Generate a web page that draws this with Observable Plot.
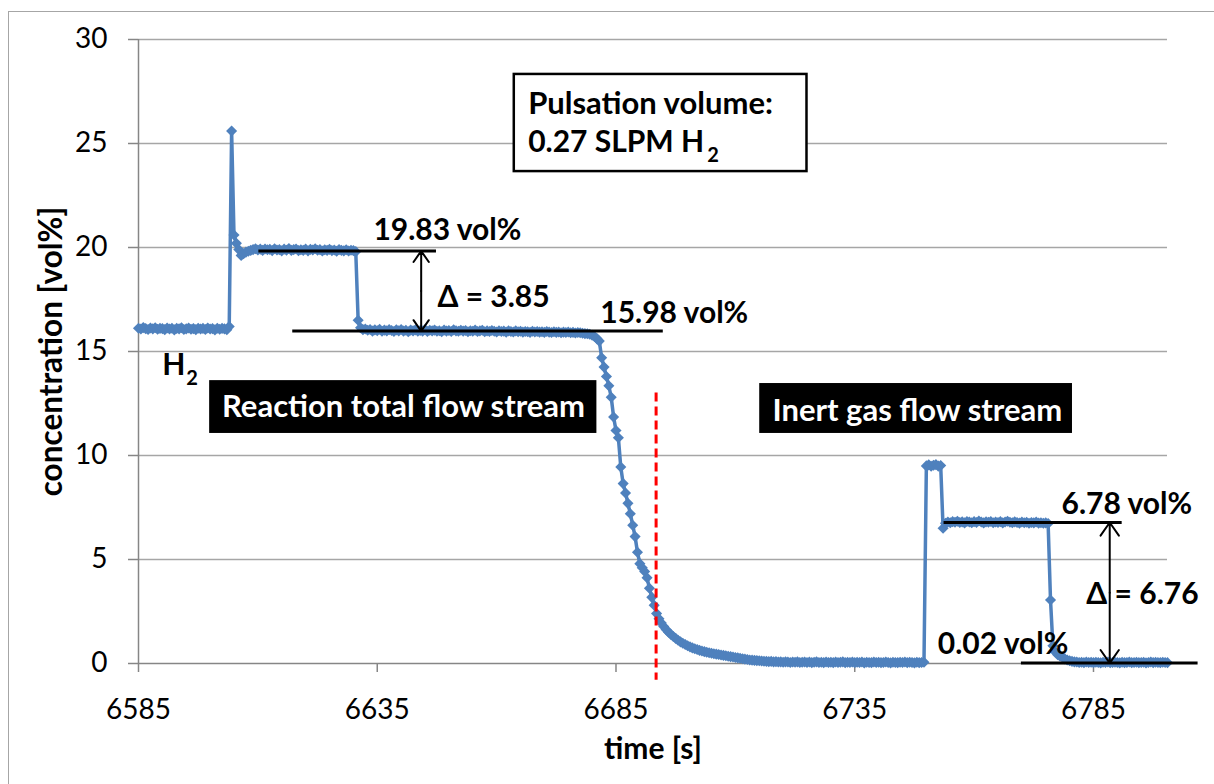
<!DOCTYPE html>
<html>
<head>
<meta charset="utf-8">
<script src="https://cdn.jsdelivr.net/npm/d3@7"></script>
<script src="https://cdn.jsdelivr.net/npm/@observablehq/plot@0.6"></script>
<style>
  html, body { margin: 0; padding: 0; background: #fff; overflow: hidden; }
  #wrap { position: relative; width: 1214px; height: 784px; }
  #frame { position: absolute; left: 8px; top: 11px; width: 1240px; height: 800px;
           border: 1.5px solid #a6a6a6; box-sizing: border-box; }
  #chart { position: absolute; left: 0; top: 0; }
</style>
</head>
<body>
<div id="wrap"><div id="frame"></div><div id="chart"></div></div>
<script>
// H2 concentration logged every 0.5 s, starting at t = 6585 s
const startTime = 6585;
const step = 0.5;
const concentration = [
  16.12,16.08,16.15,16.10,16.06,16.13,16.09,16.14,16.07,16.11, // 6585
  16.10,16.05,16.13,16.08,16.12,16.04,16.11,16.09,16.14,16.06, // 6590
  16.09,16.13,16.07,16.10,16.05,16.12,16.08,16.11,16.06,16.13, // 6595
  16.08,16.10,16.04,16.12,16.07,16.11,16.09,16.05,16.20,25.60, // 6600
  20.60,20.20,19.90,19.62,19.70,19.78,19.82,19.86,19.90,19.94, // 6605
  19.88,19.92,19.86,19.93,19.89,19.91,19.85,19.94,19.88,19.90, // 6610
  19.84,19.92,19.87,19.95,19.86,19.90,19.93,19.85,19.89,19.86, // 6615
  19.92,19.84,19.91,19.88,19.94,19.87,19.90,19.83,19.89,19.86, // 6620
  19.91,19.85,19.88,19.82,19.90,19.86,19.84,19.89,19.83,19.87, // 6625
  19.85,19.80,16.50,16.14,16.05,16.08,16.02,16.06,15.98,16.04, // 6630
  16.00,16.07,15.97,16.03,15.99,16.05,16.01,15.96,16.04,15.99, // 6635
  16.06,15.98,16.02,15.95,16.03,15.99,16.04,15.97,16.01,15.98, // 6640
  16.05,15.96,16.02,15.99,16.03,15.97,16.00,15.95,16.03,15.98, // 6645
  16.01,15.96,16.04,15.99,15.97,16.02,15.98,16.01,15.95,16.00, // 6650
  15.97,16.03,15.96,15.99,16.02,15.95,15.99,15.96,16.01,15.97, // 6655
  15.94,16.00,15.96,15.98,15.93,15.99,15.96,15.94,15.99,15.95, // 6660
  15.97,15.93,15.96,15.95,15.92,15.97,15.94,15.96,15.93,15.95, // 6665
  15.92,15.96,15.93,15.91,15.95,15.92,15.94,15.90,15.93,15.91, // 6670
  15.94,15.90,15.92,15.89,15.91,15.90,15.88,15.86,15.85,15.83, // 6675
  15.78,15.72,15.62,15.50,14.70,14.25,13.80,13.35,12.80,11.85, // 6680
  11.20,10.85, 9.45, 8.65, 8.20, 7.70, 7.20, 6.65, 6.10, 5.35, // 6685
   4.80, 4.60, 4.42, 4.12, 3.62, 3.18, 2.80, 2.40, 2.15, 1.95, // 6690
   1.78, 1.63, 1.50, 1.40, 1.30, 1.21, 1.12, 1.04, 0.97, 0.91, // 6695
   0.85, 0.80, 0.75, 0.71, 0.67, 0.63, 0.60, 0.57, 0.54, 0.52, // 6700
   0.49, 0.47, 0.45, 0.43, 0.41, 0.39, 0.37, 0.35, 0.33, 0.31, // 6705
   0.29, 0.27, 0.25, 0.23, 0.21, 0.19, 0.17, 0.16, 0.15, 0.14, // 6710
   0.13, 0.12, 0.11, 0.10, 0.09, 0.10, 0.08, 0.09, 0.07, 0.08, // 6715
   0.06, 0.08, 0.07, 0.05, 0.07, 0.06, 0.08, 0.05, 0.06, 0.07, // 6720
   0.05, 0.07, 0.04, 0.06, 0.08, 0.05, 0.06, 0.04, 0.07, 0.05, // 6725
   0.06, 0.04, 0.07, 0.05, 0.06, 0.08, 0.04, 0.06, 0.05, 0.07, // 6730
   0.04, 0.06, 0.05, 0.07, 0.03, 0.06, 0.05, 0.04, 0.07, 0.05, // 6735
   0.06, 0.04, 0.05, 0.07, 0.05, 0.03, 0.06, 0.05, 0.04, 0.06, // 6740
   0.05, 0.07, 0.04, 0.06, 0.05, 0.03, 0.06, 0.04, 0.05, 0.06, // 6745
   9.50, 9.55, 9.48, 9.53, 9.56, 9.49, 9.52, 6.50, 6.74, 6.80, // 6750
   6.77, 6.82, 6.79, 6.84, 6.78, 6.81, 6.76, 6.83, 6.80, 6.77, // 6755
   6.82, 6.78, 6.85, 6.80, 6.76, 6.81, 6.79, 6.83, 6.77, 6.80, // 6760
   6.78, 6.82, 6.76, 6.80, 6.84, 6.79, 6.77, 6.81, 6.78, 6.75, // 6765
   6.80, 6.77, 6.79, 6.74, 6.78, 6.76, 6.80, 6.75, 6.77, 6.74, // 6770
   6.76, 6.73, 3.05, 0.85, 0.55, 0.42, 0.35, 0.30, 0.22, 0.17, // 6775
   0.13, 0.10, 0.08, 0.07, 0.05, 0.06, 0.04, 0.07, 0.05, 0.06, // 6780
   0.04, 0.06, 0.05, 0.03, 0.06, 0.05, 0.07, 0.04, 0.05, 0.06, // 6785
   0.05, 0.03, 0.06, 0.04, 0.05, 0.07, 0.04, 0.05, 0.06, 0.04, // 6790
   0.05, 0.06, 0.03, 0.05, 0.07, 0.04, 0.06, 0.05, 0.04, 0.06, // 6795
   0.05, 0.04                                                   // 6800
];

const xTicks = [6585, 6635, 6685, 6735, 6785];
const yTicks = [0, 5, 10, 15, 20, 25, 30];

// horizontal reference levels (vol%) and their extent in time
const levelLines = [
  {x1: 6610.1, x2: 6647.3, level: 19.83},
  {x1: 6617.2, x2: 6694.8, level: 15.98},
  {x1: 6753.6, x2: 6790.9, level: 6.78},
  {x1: 6769.8, x2: 6806.8, level: 0.02}
];
// double arrows spanning each concentration step
const steps = [
  {time: 6644.2, high: 19.83, low: 15.98},
  {time: 6788.4, high: 6.78, low: 0.02}
];
const switchTime = 6693.4;

const streamBoxes = [
  {label: "Reaction total flow stream", x1: 6599.9, x2: 6681.0, y1: 11.06, y2: 13.60, tx: 6640.5, ty: 11.83},
  {label: "Inert gas flow stream", x1: 6715.1, x2: 6780.6, y1: 11.06, y2: 13.46, tx: 6748.1, ty: 11.68}
];
const infoBox = [{x1: 6663.7, x2: 6725.0, y1: 23.65, y2: 28.32}];

const notes = [
  {text: "19.83 vol%", time: 6634.2, c: 20.34, size: 30},
  {text: "\u0394 = 3.85", time: 6647.6, c: 17.12, size: 30},
  {text: "15.98 vol%", time: 6681.7, c: 16.39, size: 30},
  {text: "6.78 vol%", time: 6778.3, c: 7.21, size: 30},
  {text: "\u0394 = 6.76", time: 6783.5, c: 2.88, size: 30},
  {text: "0.02 vol%", time: 6752.4, c: 0.48, size: 30},
  {text: "Pulsation volume:", time: 6666.6, c: 26.44, size: 31},
  {text: "0.27 SLPM H", time: 6666.6, c: 24.57, size: 30},
  {text: "H", time: 6590.0, c: 13.85, size: 30}
];
const subscripts = [
  {text: "2", time: 6704.1, c: 24.10},
  {text: "2", time: 6595.0, c: 13.38}
];

const series = concentration.map((c, i) => ({time: startTime + i * step, c}));
const blue = "#4F81BD";
const axisGray = "#868686";

const arrowHalves = steps.flatMap(d => {
  const mid = (d.high + d.low) / 2;
  return [{time: d.time, from: mid, to: d.high}, {time: d.time, from: mid, to: d.low}];
});

const chart = Plot.plot({
  width: 1214,
  height: 784,
  marginLeft: 138,
  marginRight: 47,
  marginTop: 39,
  marginBottom: 121,
  style: {fontFamily: "Lato, sans-serif", fontSize: "28px", background: "transparent", overflow: "visible", color: "#000"},
  x: {domain: [6585, 6800.5]},
  y: {domain: [0, 30]},
  marks: [
    Plot.gridY(yTicks.slice(1), {stroke: "#a6a6a6", strokeOpacity: 1, strokeWidth: 1.5}),
    Plot.ruleY([0], {stroke: axisGray, strokeWidth: 1.5}),
    Plot.ruleX([6585], {stroke: axisGray, strokeWidth: 1.5}),
    Plot.axisY(yTicks, {tickSize: 10, tickPadding: 21, stroke: axisGray, strokeWidth: 1.5, fill: "#000", fontSize: 28, label: null}),
    Plot.axisX(xTicks, {tickSize: 9, tickPadding: 27, stroke: axisGray, strokeWidth: 1.5, fill: "#000", fontSize: 28, label: null, tickFormat: d => String(d)}),
    Plot.text(["concentration [vol%]"], {frameAnchor: "left", dx: -87, rotate: -90, textAnchor: "middle", lineAnchor: "middle", fontWeight: "bold", fontSize: 31.5, fill: "#000"}),
    Plot.text(["time [s]"], {frameAnchor: "bottom", dy: 95, fontWeight: "bold", fontSize: 30, fill: "#000"}),

    Plot.rect(infoBox, {x1: "x1", x2: "x2", y1: "y1", y2: "y2", fill: "#fff", stroke: "#000", strokeWidth: 2.5}),
    Plot.rect(streamBoxes, {x1: "x1", x2: "x2", y1: "y1", y2: "y2", fill: "#000"}),
    Plot.text(streamBoxes, {x: "tx", y: "ty", text: "label", fill: "#fff", fontWeight: "bold", fontSize: 31, lineAnchor: "bottom"}),

    Plot.line(series, {x: "time", y: "c", stroke: blue, strokeWidth: 3.5}),
    Plot.dot(series, {x: "time", y: "c", symbol: "diamond2", r: 5, fill: blue, stroke: "none"}),

    Plot.ruleX([switchTime], {y1: 13.0, y2: -0.8, stroke: "#ff0000", strokeWidth: 3, strokeDasharray: "9,5"}),

    Plot.link(levelLines, {x1: "x1", x2: "x2", y1: "level", y2: "level", stroke: "#000", strokeWidth: 3}),
    Plot.arrow(arrowHalves, {x1: "time", x2: "time", y1: "from", y2: "to", stroke: "#000", strokeWidth: 2, headLength: 12, headAngle: 70}),

    Plot.text(notes, {x: "time", y: "c", text: "text", textAnchor: "start", lineAnchor: "bottom", fontWeight: "bold", fontSize: "size", fill: "#000"}),
    Plot.text(subscripts, {x: "time", y: "c", text: "text", textAnchor: "start", lineAnchor: "bottom", fontWeight: "bold", fontSize: 20, fill: "#000"})
  ]
});
document.getElementById("chart").append(chart);
</script>
</body>
</html>
